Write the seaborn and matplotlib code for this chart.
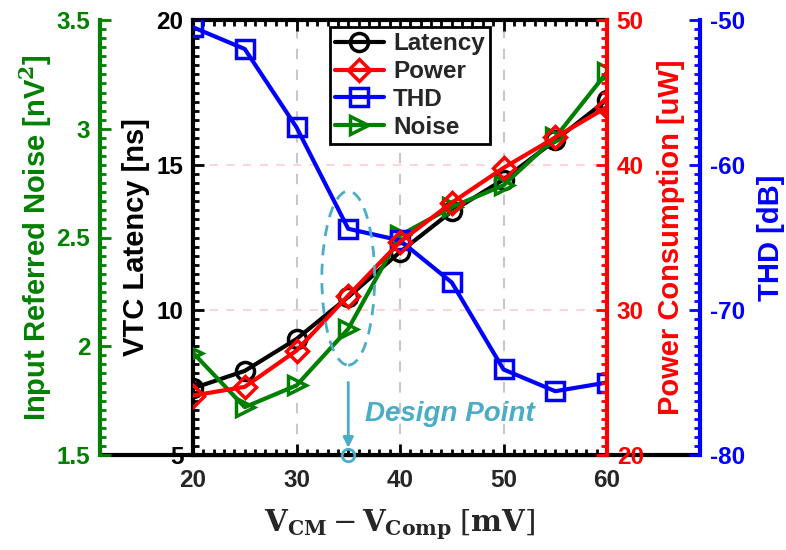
import numpy as np
import pandas as pd
import matplotlib
matplotlib.use("Agg")
import matplotlib.pyplot as plt
from matplotlib.patches import Ellipse
from matplotlib.lines import Line2D
from matplotlib.ticker import AutoMinorLocator, FormatStrFormatter
import seaborn as sns

# data
v_diff = [20, 25, 30, 35, 40, 45, 50, 55, 60]          # V_CM - V_Comp [mV]
latency = [7.3, 7.9, 9.0, 10.45, 12.0, 13.4, 14.5, 15.85, 17.25]   # ns
power = [24.1, 24.7, 27.2, 31.0, 34.7, 37.4, 39.8, 41.9, 44.0]     # uW
thd = [-50.5, -52.0, -57.4, -64.4, -65.2, -68.1, -74.1, -75.6, -75.0]  # dB
noise = [1.97, 1.72, 1.82, 2.08, 2.51, 2.64, 2.74, 2.96, 3.26]     # nV^2
design_point = 35

x_ticks = [20, 30, 40, 50, 60]
lat_ticks = [5, 10, 15, 20]
pow_ticks = [20, 30, 40, 50]
thd_ticks = [-80, -70, -60, -50]
noise_ticks = [1.5, 2, 2.5, 3, 3.5]

GREEN = "#008000"
RED = "#FF0000"
BLUE = "#0000FF"
CYAN = "#4BACC6"

sns.set_theme(style="white")
plt.rcParams['font.family'] = ['Liberation Sans', 'DejaVu Sans']
plt.rcParams['mathtext.fontset'] = 'dejavuserif'

TICK_FS = 17.5
LABEL_FS = 21

fig = plt.figure(figsize=(7.86, 5.5), dpi=100)
ax = fig.add_axes([193 / 786, 95 / 550, 414 / 786, 435 / 550])
ax_noise = ax.twinx()
ax_thd = ax.twinx()
ax_pow = ax.twinx()

# outer spines first (moving a spine resets its ticks)
ax_noise.yaxis.set_label_position("left")
ax_noise.yaxis.tick_left()
ax_noise.spines["left"].set_position(("axes", -93 / 414))
ax_thd.spines["right"].set_position(("axes", 1 + 93 / 414))

df = pd.DataFrame({"v": v_diff, "lat": latency, "pow": power, "thd": thd, "noise": noise})

common = dict(lw=3, markersize=13, markerfacecolor="none", mew=2.5)
sns.lineplot(data=df, x="v", y="lat", ax=ax, color="black", marker="o",
             markeredgecolor="black", label="Latency", legend=False, **common)
sns.lineplot(data=df, x="v", y="thd", ax=ax_thd, color=BLUE, marker="s",
             markeredgecolor=BLUE, label="THD", legend=False, **common)
sns.lineplot(data=df, x="v", y="noise", ax=ax_noise, color=GREEN, marker=">",
             markeredgecolor=GREEN, label="Noise", legend=False, **common)
sns.lineplot(data=df, x="v", y="pow", ax=ax_pow, color=RED, marker="D",
             markeredgecolor=RED, label="Power", legend=False,
             **{**common, "markersize": 11})


def style_y(a, lim, ticks, color, label, side, label_x, nminor):
    a.set_ylim(*lim)
    a.set_yticks(ticks)
    a.yaxis.set_major_formatter(FormatStrFormatter("%g"))
    a.yaxis.set_minor_locator(AutoMinorLocator(nminor))
    a.tick_params(axis="y", which="both", direction="in", color=color, width=2,
                  labelcolor=color, labelsize=TICK_FS)
    a.tick_params(axis="y", which="major", length=8, pad=7)
    a.tick_params(axis="y", which="minor", length=4)
    for t in a.get_yticklabels():
        t.set_fontweight("bold")
    a.set_ylabel(label, color=color, fontsize=LABEL_FS, fontweight="bold")
    a.yaxis.label.set_va("center")
    a.yaxis.set_label_coords(label_x, 0.5)
    for s in ["left", "right", "top", "bottom"]:
        a.spines[s].set_visible(s == side)
    a.spines[side].set_color(color)
    a.spines[side].set_linewidth(3)


# main axes: latency
ax.set_xlim(20, 60)
ax.set_xticks(x_ticks)
ax.xaxis.set_minor_locator(AutoMinorLocator(10))
ax.tick_params(axis="x", which="both", direction="in", top=True, bottom=True,
               color="black", width=2, labelsize=TICK_FS)
ax.tick_params(axis="x", which="major", length=8, pad=10)
ax.tick_params(axis="x", which="minor", length=4)
for t in ax.get_xticklabels():
    t.set_fontweight("bold")
ax.set_xlabel("")
style_y(ax, (5, 20), lat_ticks, "black", "VTC Latency [ns]", "left", (136 - 193) / 414, 16)
for s in ["top", "bottom"]:
    ax.spines[s].set_visible(True)
    ax.spines[s].set_color("black")
    ax.spines[s].set_linewidth(3)
ax.grid(True, axis="x", color="#C8C8C8", ls=(0, (5, 5)), lw=1.5)
ax.grid(True, axis="y", color="#FFCCCC", ls=(0, (5, 5)), lw=1.2)

style_y(ax_pow, (20, 50), pow_ticks, RED, "Power Consumption [uW]", "right",
        (671 - 193) / 414, 16)
style_y(ax_thd, (-80, -50), thd_ticks, BLUE, "THD [dB]", "right",
        (771 - 193) / 414, 16)
style_y(ax_noise, (1.5, 3.5), noise_ticks, GREEN, "Input Referred Noise [nV$^{\\mathbf{2}}$]",
        "left", (36 - 193) / 414, 12)

# bottom line stretched between the outer axes
y0 = 95 / 550
fig.add_artist(Line2D([100 / 786, 700 / 786], [y0, y0], color="black", lw=3,
                      transform=fig.transFigure, zorder=0))

# design point annotation (drawn in power-axis units)
ax_pow.add_patch(Ellipse((design_point, 32.2), width=5.1, height=12.0,
                         fill=False, edgecolor=CYAN, lw=2, ls=(0, (4, 3)), zorder=5))
ax_pow.annotate("", xy=(design_point, 20.3), xytext=(design_point, 25.2),
                arrowprops=dict(arrowstyle="-|>", color=CYAN, lw=2, mutation_scale=15),
                zorder=5)
ax_pow.plot([design_point], [20], marker="o", ms=9, mfc="none", mec=CYAN, mew=2,
            clip_on=False, zorder=6)
ax_pow.text(44.8, 22.8, "Design Point", color=CYAN, fontsize=20, fontweight="bold",
            fontstyle="italic", ha="center", va="center")

# legend
handles = [Line2D([], [], color=c, marker=m, lw=3, ms=13 if m != "D" else 11,
                  mfc="none", mec=c, mew=2.5)
           for c, m in [("black", "o"), (RED, "D"), (BLUE, "s"), (GREEN, ">")]]
leg = ax_pow.legend(handles, ["Latency", "Power", "THD", "Noise"],
                    loc="upper left", bbox_to_anchor=(0.331, 0.983), borderaxespad=0,
                    prop=dict(size=17.5, weight="bold"), frameon=True, fancybox=False,
                    framealpha=1, edgecolor="black", handlelength=2.0,
                    borderpad=0.2, labelspacing=0.2, handletextpad=0.4)
leg.get_frame().set_linewidth(2)

# x label
fig.text(400 / 786, 25 / 550,
         r"$\mathbf{V_{CM}} - \mathbf{V_{Comp}}$ $[\mathbf{mV}]$",
         fontsize=21, ha="center", va="center")

fig.savefig("out.png", dpi=100)
